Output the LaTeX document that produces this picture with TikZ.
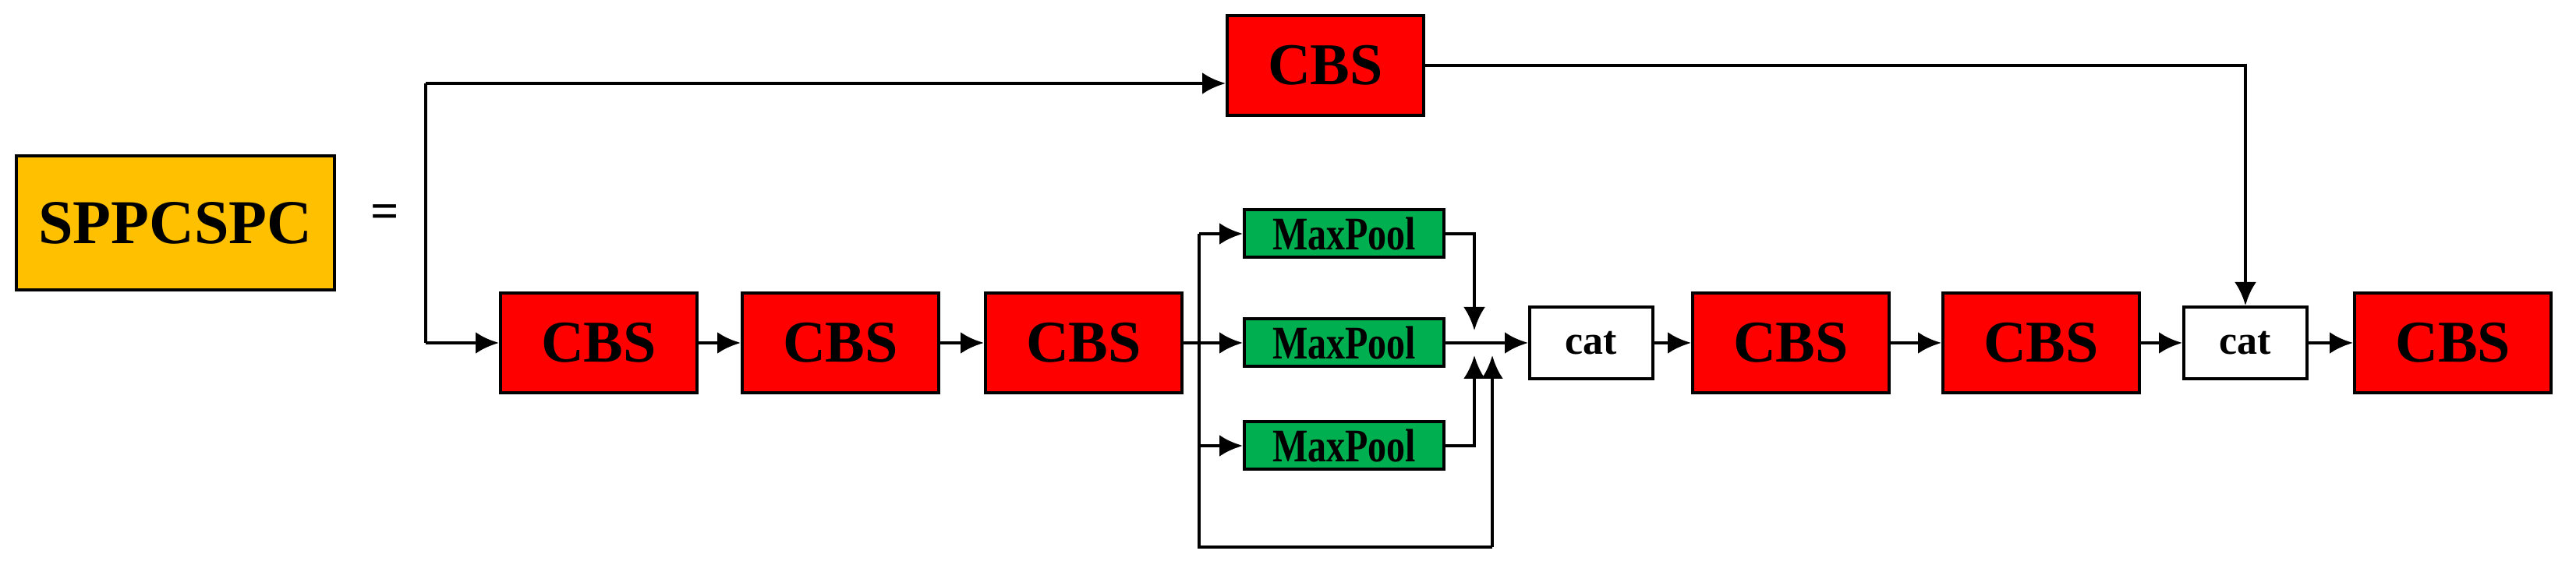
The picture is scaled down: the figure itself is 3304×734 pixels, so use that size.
\documentclass[tikz,border=0pt]{standalone}
\usepackage{fontspec}
\setmainfont{Liberation Serif}
\usetikzlibrary{arrows.meta}
\begin{document}
\begin{tikzpicture}[x=0.25pt,y=-0.25pt,
  box/.style={draw=black,line width=1pt,inner sep=0pt,font=\bfseries},
  cbs/.style={box,fill=red,minimum width=63pt,minimum height=32pt,font=\bfseries\fontsize{19}{19}\selectfont},
  mp/.style={box,fill=green!60!black!85!white,fill={rgb,255:red,0;green,176;blue,80},minimum width=64pt,minimum height=15.25pt,font=\bfseries\fontsize{15}{15}\selectfont},
  cat/.style={box,fill=white,minimum width=39.5pt,minimum height=23pt,font=\bfseries\fontsize{13}{13}\selectfont},
  arr/.style={line width=1.2pt,-{Latex[length=7.5pt,width=7pt]}},
  ln/.style={line width=1.2pt}]
\useasboundingbox[fill=white] (0,0) rectangle (3304,734);
\node[box,fill={rgb,255:red,255;green,192;blue,0},minimum width=102pt,minimum height=43pt,font=\bfseries\fontsize{20}{20}\selectfont] (sp) at (225,286) {SPPCSPC};
\node[font=\bfseries\fontsize{16}{16}\selectfont] (eq) at (494,278) {=};
\node[cbs] (top) at (1700,84) {CBS};
\node[cbs] (c1) at (768,440) {CBS};
\node[cbs] (c2) at (1078,440) {CBS};
\node[cbs] (c3) at (1390,440) {CBS};
\node[mp] (m1) at (1724,300) {\scalebox{0.8}[1]{MaxPool}};
\node[mp] (m2) at (1724,440) {\scalebox{0.8}[1]{MaxPool}};
\node[mp] (m3) at (1724,572) {\scalebox{0.8}[1]{MaxPool}};
\node[cat] (k1) at (2041,440) {cat};
\node[cbs] (c4) at (2297,440) {CBS};
\node[cbs] (c5) at (2618,440) {CBS};
\node[cat] (k2) at (2880,440) {cat};
\node[cbs] (c6) at (3146,440) {CBS};
\coordinate (bt) at (546,107);
\coordinate (bb) at (546,440);
\coordinate (st) at (1538,300);
\coordinate (sb) at (1538,702);
\coordinate (lb) at (1914,702);
\coordinate (lt) at (1914,456);
\coordinate (d1) at (1891,424);
\coordinate (u3) at (1891,456);
\draw[ln] (bb) -- (bt);
\draw[arr] (bt) -- (bt -| top.west);
\draw[arr] (bb) -- (c1.west);
\draw[arr] (c1) -- (c2);
\draw[arr] (c2) -- (c3);
\draw[arr] (c3) -- (m2);
\draw[ln] (st) -- (sb) -- (lb);
\draw[arr] (st) -- (m1);
\draw[arr] (st |- m3) -- (m3);
\draw[arr] (lb) -- (lt);
\draw[arr] (m1.east) -| (d1);
\draw[arr] (m3.east) -| (u3);
\draw[arr] (m2) -- (k1);
\draw[arr] (k1) -- (c4);
\draw[arr] (c4) -- (c5);
\draw[arr] (c5) -- (k2);
\draw[arr] (k2) -- (c6);
\draw[arr] (top.east) -| (k2.north);
\end{tikzpicture}
\end{document}
